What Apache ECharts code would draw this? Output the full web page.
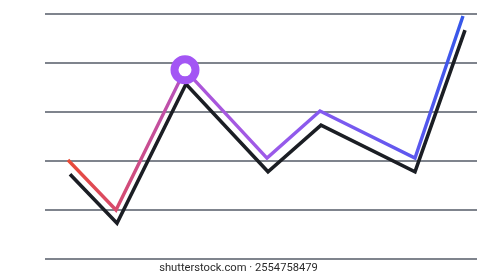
<!DOCTYPE html>
<html>
<head>
<meta charset="utf-8">
<script src="https://cdn.jsdelivr.net/npm/echarts@6/dist/echarts.min.js"></script>
<style>
html,body{margin:0;padding:0;background:#fff;}
#c{width:477px;height:280px;}
</style>
</head>
<body>
<div id="c"></div>
<script>
// Data (x in horizontal units across the plot, y in grid units)
const colorX = [23, 71, 140, 222, 275, 370, 418];
const colorY = [2.02, 1.0, 3.86, 2.06, 3.02, 2.06, 4.96];
const shadowX = [25, 72, 141, 223, 276, 370, 420];
const shadowY = [1.73, 0.73, 3.57, 1.78, 2.73, 1.78, 4.67];
const peakIndex = 2;
const watermark = 'shutterstock.com · 2554758479';

const chart = echarts.init(document.getElementById('c'), null, {renderer: 'canvas'});
const pair = (xs, ys) => xs.map((x, i) => [x, ys[i]]);

chart.setOption({
  animation: false,
  backgroundColor: '#ffffff',
  grid: {left: 45, right: 0, top: 14, bottom: 21},
  xAxis: {type: 'value', min: 0, max: 432, show: false},
  yAxis: {
    type: 'value', min: 0, max: 5, interval: 1,
    axisLine: {show: false}, axisTick: {show: false}, axisLabel: {show: false},
    splitLine: {show: true, lineStyle: {color: '#545b67', width: 1.6}}
  },
  series: [
    {
      type: 'line', data: pair(shadowX, shadowY), symbol: 'none', clip: false,
      lineStyle: {color: '#1b1e24', width: 3.6, join: 'miter', cap: 'butt'}, z: 2
    },
    {
      type: 'line', data: pair(colorX, colorY), symbol: 'none', clip: false, z: 3,
      lineStyle: {
        width: 3.4, join: 'miter', cap: 'butt',
        color: new echarts.graphic.LinearGradient(0, 0, 1, 0, [
          {offset: 0, color: '#ea4b34'},
          {offset: 0.12, color: '#d84a6a'},
          {offset: 0.25, color: '#c04fa6'},
          {offset: 0.32, color: '#ad55d8'},
          {offset: 0.5, color: '#9e5ae8'},
          {offset: 0.65, color: '#825af0'},
          {offset: 0.88, color: '#5a57ee'},
          {offset: 1, color: '#3357e8'}
        ])
      }
    },
    {
      type: 'scatter', z: 5,
      data: [[colorX[peakIndex], colorY[peakIndex]]],
      symbol: 'circle', symbolSize: 21,
      itemStyle: {color: '#ffffff', borderColor: '#a356f4', borderWidth: 8, opacity: 1}
    }
  ],
  graphic: [{
    type: 'text', left: 'center', top: 263,
    style: {text: watermark, fill: '#2b2b2b', font: '11.2px Roboto, sans-serif'}
  }]
});
</script>
</body>
</html>
